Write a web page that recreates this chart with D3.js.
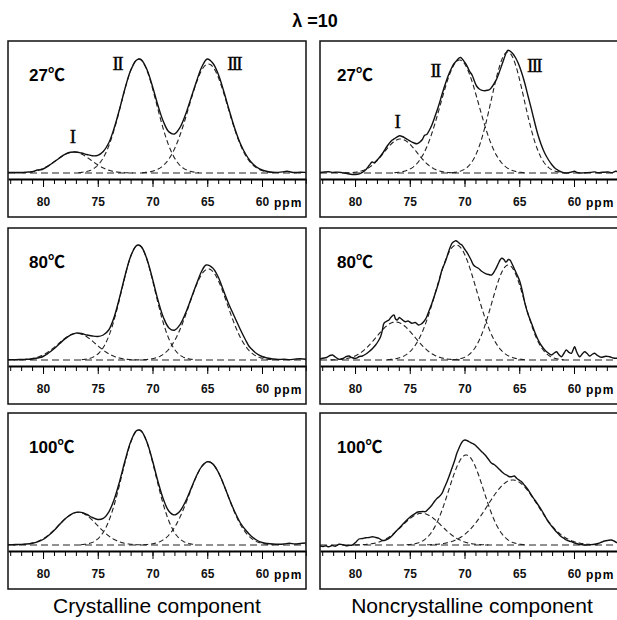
<!DOCTYPE html>
<html lang="en">
<head>
<meta charset="UTF-8">
<title>13C NMR lineshape, lambda = 10</title>
<script src="https://cdn.jsdelivr.net/npm/d3@7"></script>
<style>
  body { margin: 0; background: #fff; }
  svg { display: block; }
  .sans { font-family: "Liberation Sans", Arial, Helvetica, sans-serif; }
  .roman { font-family: "Liberation Serif", "Times New Roman", serif; font-size: 19px; letter-spacing: -1.8px; }
</style>
</head>
<body>
<svg id="chart" width="617" height="620"></svg>
<script>
// ---- data ---------------------------------------------------------------
// x in ppm, intensity in arbitrary units above the fitted baseline
var title = "\u03bb =10";
var columnTitles = ["Crystalline component", "Noncrystalline component"];
var temps = ["27", "80", "100"];
var majorTicks = [80, 75, 70, 65, 60];
var ppmDomain = [83.2, 55.98];

// fitted components: [centre ppm, height, sigma ppm]
var crys27Peaks = [[77.2, 21, 1.6], [71.25, 114, 1.62], [64.9, 109, 1.78]];
var crys80Peaks = [[76.9, 26.7, 1.7], [71.3, 115, 1.52], [64.9, 91, 1.75]];
var crys100Peaks = [[76.8, 32.7, 1.75], [71.25, 115, 1.55], [64.9, 83.3, 1.75]];
var non27Peaks = [[75.85, 34, 1.5], [70.45, 113, 1.75], [66.05, 121, 1.5]];
var non80Peaks = [[76.3, 38, 1.75], [70.75, 115, 1.85], [66.0, 95, 1.5]];
var non100Peaks = [[73.9, 31.7, 1.8], [69.85, 90, 1.6], [65.6, 65, 2.3]];

// observed spectra: [ppm, intensity]
var crys27 = [[83.2,0.5],[82.5,0.6],[82,0.6],[81.5,0.9],[81,1.3],[80.5,3],[80.2,3.3],[80,4],[79.5,7.2],[79,11],[78.5,15],[78,18.6],[77.5,20.7],[77,21],[76.5,20],[76,18.5],[75.5,17.2],[75,17.6],[74.5,21.5],[74,30],[73.5,45],[73,64.3],[72.5,85],[72,102.4],[71.5,112.6],[71.2,114],[71,113],[70.5,103.2],[70,86.5],[69.5,67.5],[69,51.2],[68.5,41.1],[68,39],[67.5,45.3],[67,58],[66.5,74.4],[66,91],[65.5,106],[65,114],[64.5,110],[64,99],[63.5,82],[63,63],[62.5,45],[62,30],[61.5,19],[61,11],[60.5,6],[60,3],[59.5,1.5],[59,0.8],[58.5,0.6],[58,1.2],[57.7,1.7],[57.3,0.8],[57,0.5],[56.5,0.7],[56,0.6]];
var crys80 = [[83.2,0.3],[82.5,0.4],[82,0.5],[81.5,0.7],[81,1],[80.5,2],[80,3.5],[79.5,7],[79,11.3],[78.5,16.2],[78,21.1],[77.5,24.9],[77,26.9],[76.5,26.5],[76,25],[75.5,24],[75,23.5],[74.5,25],[74,30],[73.5,43.1],[73,62.9],[72.5,84.8],[72,103.6],[71.5,114],[71.3,115],[71,113],[70.5,100.6],[70,81.1],[69.5,59.9],[69,42.5],[68.5,32.1],[68,29.8],[67.5,35.2],[67,46.4],[66.5,60.7],[66,75.5],[65.5,89],[65.1,95],[64.5,92],[64,83],[63.5,69],[63,55],[62.5,43],[62,31],[61.5,20],[61.2,14],[61,11.5],[60.5,6.5],[60,3.5],[59.5,2],[59,1],[58.5,0.5],[58,0.8],[57.5,0.4],[57,0.9],[56.5,1.2],[56,0.8]];
var crys100 = [[83.2,0.3],[82.5,0.5],[82,0.6],[81.5,1],[81,1.8],[80.5,3.2],[80,5.5],[79.5,9.5],[79,14.5],[78.5,20.4],[78,25.9],[77.5,30.2],[77,32.6],[76.5,32.6],[76,30.5],[75.5,27.5],[75,25.5],[74.5,26.6],[74,32.9],[73.5,45.6],[73,63.9],[72.5,84.7],[72,103.1],[71.5,113.9],[71.25,115],[71,113.8],[70.5,102.8],[70,84.3],[69.5,63.4],[69,45.5],[68.5,33.8],[68,30.1],[67.5,33.8],[67,43.2],[66.5,55.9],[66,68.8],[65.5,78.6],[65,83.3],[64.5,81.1],[64,73],[63.5,60.5],[63,46.5],[62.5,33.5],[62,22.5],[61.5,15],[61,9],[60.5,5],[60,2.5],[59.5,1.5],[59,1],[58.5,0.8],[58,1],[57.5,1.8],[57,1],[56.5,1.5],[56,2]];
var non27 = [[83.2,0.5],[82.8,1],[82.4,1.2],[82,0.6],[81.6,0.9],[81.2,0.4],[80.8,-0.4],[80.4,-1.3],[80,-1.5],[79.6,-0.8],[79.3,0.8],[79,3.5],[78.7,7.7],[78.45,11],[78.25,10.3],[78,12.7],[77.7,16.5],[77.4,21],[77.15,25.5],[76.9,29.3],[76.65,32.5],[76.4,34.3],[76.15,36.2],[75.9,37.2],[75.7,36.5],[75.45,35.2],[75.2,33.5],[74.9,31.5],[74.6,30],[74.35,29.3],[74.1,30.8],[73.85,33.5],[73.65,37.7],[73.45,38.5],[73.25,42],[73,47.5],[72.7,56.5],[72.4,66],[72.1,77],[71.8,87.5],[71.5,97],[71.2,104.5],[70.95,109.5],[70.7,112.5],[70.5,115],[70.35,115.5],[70.2,114],[70,111],[69.8,107.7],[69.55,102],[69.3,97.7],[69.1,92],[68.9,87],[68.65,84],[68.4,82.7],[68.15,82.3],[67.9,82.7],[67.7,83.5],[67.5,86],[67.3,89.5],[67.05,94.3],[66.85,100],[66.6,107.7],[66.4,114],[66.2,120],[66.05,122.7],[65.85,122],[65.6,119.5],[65.35,115.5],[65.1,110],[64.8,101],[64.5,90],[64.2,77],[63.9,64.3],[63.6,51],[63.3,38.5],[63,28.5],[62.7,20.5],[62.35,13.5],[62,8],[61.7,4.5],[61.45,2.7],[61.1,0.8],[60.85,0],[60.5,0.2],[60.2,1],[59.95,1.8],[59.75,0.6],[59.4,0],[59,0.3],[58.5,0.6],[58.1,1.1],[57.8,0.3],[57.4,0.7],[56.9,1],[56.5,0.4],[56.2,1.7],[56,1.2]];
var non80 = [[83.2,1],[82.97,1.7],[82.6,2.5],[82.3,4.5],[82.06,5],[81.8,3],[81.45,0.7],[81.1,1.5],[80.8,3.5],[80.55,4],[80.3,2.5],[79.94,1.7],[79.6,3.5],[79.33,4],[79,6],[78.73,8.3],[78.4,11.5],[78.12,15],[77.9,18.5],[77.67,23.3],[77.5,30],[77.36,36.7],[77.15,38.5],[76.9,40],[76.7,43],[76.45,45],[76.3,41],[76.15,40],[75.95,42.5],[75.85,41.7],[75.6,39.5],[75.4,38.3],[75.15,39],[74.8,36.7],[74.5,37.5],[74.2,35],[73.95,36],[73.73,38.3],[73.5,42],[73.27,48.3],[73,56],[72.67,66.7],[72.35,78],[72.06,90],[71.8,97],[71.6,103.3],[71.4,110],[71.15,116.7],[70.95,118.5],[70.79,119.3],[70.6,118],[70.4,116],[70.24,115],[70,111],[69.8,108],[69.64,105],[69.4,100],[69.18,95],[68.95,93],[68.73,91.7],[68.4,88.5],[68.12,86.7],[67.8,85.5],[67.52,85],[67.2,90],[66.9,96.7],[66.75,100],[66.6,101.7],[66.4,100.5],[66.25,98],[66.15,98.3],[66,100.5],[65.85,100],[65.65,96],[65.4,90],[65.15,84],[64.94,78.3],[64.7,68],[64.48,56.7],[64.2,46],[63.88,36.7],[63.55,27],[63.27,20],[62.95,14],[62.67,10],[62.35,7],[62.06,5],[61.8,7],[61.6,8.3],[61.35,5],[61.15,3.3],[60.9,7],[60.7,10],[60.45,7.5],[60.24,6.7],[60.05,11],[59.94,13.3],[59.75,8],[59.48,3.3],[59.25,6],[59.03,8.3],[58.8,6.5],[58.58,4],[58.35,5.5],[58.12,6.7],[57.85,4.5],[57.52,2.7],[57.1,3.8],[56.76,3.3],[56.4,2],[56.15,1.7],[56,2]];
var non100 = [[83.2,-1],[82.9,-1.5],[82.67,-0.8],[82.4,-1.8],[82.1,-0.5],[81.8,-1.2],[81.45,0.7],[81.1,0.2],[80.85,-0.7],[80.5,-0.3],[80.24,0],[79.9,3],[79.64,6],[79.3,6.5],[79.03,7.3],[78.7,7.5],[78.42,8.3],[78.1,7.5],[77.82,6.7],[77.5,4.5],[77.2,5],[76.9,6.7],[76.6,9.5],[76.3,13.3],[76,16.5],[75.7,20],[75.4,23.5],[75.1,26.7],[74.8,29.5],[74.48,31.7],[74.25,33],[74.03,33.3],[73.8,33.5],[73.58,33.3],[73.3,36],[72.97,40],[72.75,43.5],[72.5,46.7],[72.3,48.5],[72.06,51.7],[71.85,57],[71.6,63.3],[71.4,69],[71.15,76.7],[70.9,84.5],[70.7,91.7],[70.5,97],[70.3,101.7],[70.1,104.5],[69.94,105],[69.7,104],[69.48,102.7],[69.25,101.5],[69.03,100],[68.8,97.5],[68.58,95],[68.35,92.5],[68.12,90],[67.8,85.5],[67.52,81.7],[67.3,80.5],[67.06,78.3],[66.85,76],[66.6,73.3],[66.35,71],[66.15,70],[65.95,68.5],[65.7,68.3],[65.45,69],[65.24,66.7],[65,64.8],[64.79,63.3],[64.5,59.5],[64.18,55],[63.9,50],[63.58,45],[63.3,40.5],[62.97,35],[62.65,29],[62.36,23.3],[62.05,19],[61.76,15],[61.45,11.5],[61.15,8.3],[60.9,6.5],[60.7,5],[60.45,4],[60.24,3.3],[59.94,2],[59.64,1],[59.3,0.4],[59.03,0],[58.6,0.3],[58.12,0.7],[57.7,1.8],[57.45,3],[57.2,4],[56.9,4.6],[56.6,5],[56.35,4],[56.15,2.7],[56,2.2]];

// peak labels (only on the 27 C panels): [text, ppm, intensity]
var crys27Labels = [["I", 77.35, 37], ["II", 73.23, 110], ["III", 62.55, 110]];
var non27Labels = [["I", 76.18, 52], ["II", 72.69, 102.7], ["III", 63.66, 107.7]];

// ---- layout ---------------------------------------------------------------
var svg = d3.select("#chart");
var colX = [8, 320], rowY = [41, 228, 413];
var panelW = 298, panelH = 176, plotH = 132;

var panels = [
  { col: 0, row: 0, data: crys27, peaks: crys27Peaks, labels: crys27Labels },
  { col: 0, row: 1, data: crys80, peaks: crys80Peaks, labels: [] },
  { col: 0, row: 2, data: crys100, peaks: crys100Peaks, labels: [] },
  { col: 1, row: 0, data: non27, peaks: non27Peaks, labels: non27Labels },
  { col: 1, row: 1, data: non80, peaks: non80Peaks, labels: [] },
  { col: 1, row: 2, data: non100, peaks: non100Peaks, labels: [] }
];

svg.append("text").
attr("class", "sans").
attr("x", 315).
attr("y", 27).
attr("text-anchor", "middle").
attr("font-size", 18).
attr("font-weight", "bold").
text(title);

panels.forEach(function (p, i) {
  var x0 = colX[p.col], top = rowY[p.row];
  var g = svg.append("g");

  var x = d3.scaleLinear().domain(ppmDomain).range([x0, x0 + panelW]);
  var y = d3.scaleLinear().domain([0, plotH]).range([top + plotH, top]);

  g.append("clipPath").attr("id", "clip" + i).
  append("rect").attr("x", x0).attr("y", top).attr("width", panelW).attr("height", panelH);

  var plot = g.append("g").attr("clip-path", "url(#clip" + i + ")");

  var line = d3.line().
  x(function (d) { return x(d[0]); }).
  y(function (d) { return y(d[1]); });

  // baseline
  plot.append("path").
  datum([[ppmDomain[0], 0], [ppmDomain[1], 0]]).
  attr("d", line).
  attr("fill", "none").
  attr("stroke", "#222").
  attr("stroke-width", 1.1).
  attr("stroke-dasharray", "7,4");

  // fitted gaussian components
  p.peaks.forEach(function (pk) {
    var c = pk[0], h = pk[1], s = pk[2];
    var pts = d3.range(c + 3.4 * s, c - 3.4 * s, -0.05).map(function (v) {
      return [v, h * Math.exp(-(v - c) * (v - c) / (2 * s * s))];
    });
    plot.append("path").
    datum(pts).
    attr("d", line).
    attr("fill", "none").
    attr("stroke", "#222").
    attr("stroke-width", 1.1).
    attr("stroke-dasharray", "5,3");
  });

  // observed spectrum
  plot.append("path").
  datum(p.data).
  attr("d", line.curve(d3.curveCatmullRom.alpha(0.5))).
  attr("fill", "none").
  attr("stroke", "#111").
  attr("stroke-width", 1.4).
  attr("stroke-linejoin", "round");

  // axis
  var axisY = top + plotH + 6;
  var minor = g.append("g").attr("transform", "translate(0," + axisY + ")").
  call(d3.axisBottom(x).ticks(30).tickSize(5).tickSizeOuter(0).tickFormat(""));
  minor.select(".domain").attr("stroke-width", 2);

  var major = g.append("g").attr("transform", "translate(0," + axisY + ")").
  call(d3.axisBottom(x).tickValues(majorTicks).tickSize(8).tickSizeOuter(0).tickPadding(10));
  major.select(".domain").remove();
  major.selectAll("text").
  attr("class", "sans").
  attr("font-size", 12).
  attr("font-weight", "bold").
  attr("fill", "#111");

  g.append("text").
  attr("class", "sans").
  attr("x", x(60) + 12).
  attr("y", axisY + 27.5).
  attr("font-size", 12).
  attr("font-weight", "bold").
  attr("letter-spacing", 1).
  text("ppm");

  // frame
  g.append("rect").
  attr("x", x0).
  attr("y", top).
  attr("width", panelW).
  attr("height", panelH).
  attr("fill", "none").
  attr("stroke", "#111").
  attr("stroke-width", 1.5);

  // temperature label
  var tl = g.append("text").
  attr("class", "sans").
  attr("x", x0 + (p.col === 0 ? 21 : 17)).
  attr("y", top + 40).
  attr("font-size", 17).
  attr("font-weight", "bold");
  tl.append("tspan").text(temps[p.row]);
  tl.append("tspan").attr("font-family", "'Noto Sans CJK JP', 'DejaVu Sans', sans-serif").
  text("\u2103");

  // peak labels
  p.labels.forEach(function (lb) {
    g.append("text").
    attr("class", "roman").
    attr("x", x(lb[1])).
    attr("y", y(lb[2]) + 6.5).
    attr("text-anchor", "middle").
    attr("stroke", "#111").
    attr("stroke-width", 0.4).
    text(lb[0]);
  });
});

columnTitles.forEach(function (t, i) {
  svg.append("text").
  attr("class", "sans").
  attr("x", i === 0 ? 157 : 472).
  attr("y", 613).
  attr("text-anchor", "middle").
  attr("font-size", 21).
  text(t);
});
</script>
</body>
</html>
